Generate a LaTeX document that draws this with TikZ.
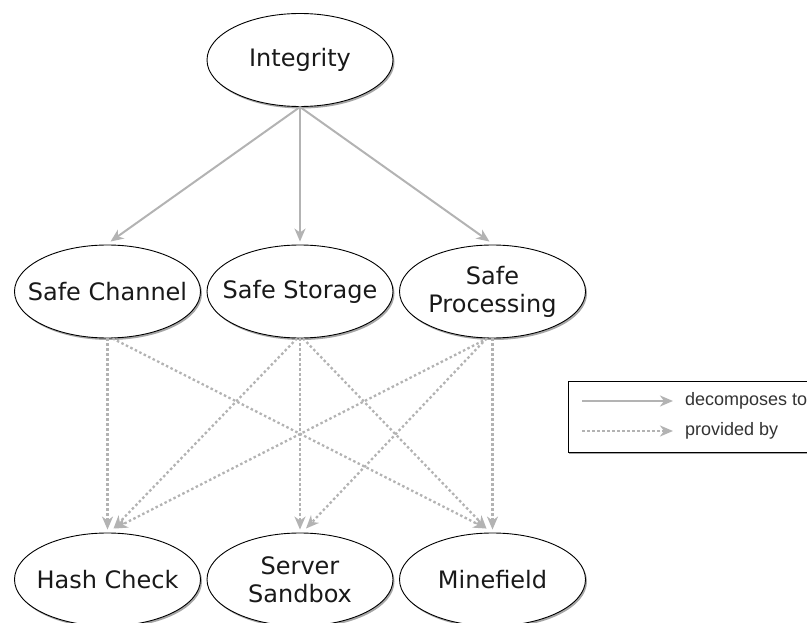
\documentclass[tikz,border=0pt]{standalone}
\usepackage{fontspec}
\setmainfont{DejaVu Sans}
\newfontfamily\legendfont{Liberation Sans}
\usetikzlibrary{shapes.geometric,arrows.meta,shadows}
\definecolor{edgegray}{HTML}{B3B3B3}
\definecolor{legtext}{HTML}{333333}
\begin{document}
\begin{tikzpicture}[x=1pt,y=-1pt,
  ell/.style={ellipse,draw=black,line width=0.9pt,fill=white,
    minimum width=186pt,minimum height=93pt,inner xsep=-20pt,inner ysep=-5pt,align=center,
    text=black!90,font=\fontsize{24}{28}\selectfont,
    drop shadow={shadow xshift=1.5pt,shadow yshift=-2pt,opacity=0.35,fill=black}},
  legbox/.style={draw=black,line width=0.9pt,fill=white,minimum width=250pt,
    minimum height=71pt,inner sep=0pt,anchor=north west,
    drop shadow={shadow xshift=1pt,shadow yshift=-2pt,opacity=0.35,fill=black}},
  legtxt/.style={anchor=west,inner sep=0pt,text=legtext,font=\legendfont\fontsize{18}{20}\selectfont},
  tip/.style={-{Stealth[length=13pt,width=11pt,inset=4pt]}},
  dec/.style={draw=edgegray,line width=2pt,tip},
  prov/.style={draw=edgegray,line width=2.3pt,dash pattern=on 2.5pt off 2.5pt,tip},
]
\useasboundingbox (0,0) rectangle (807,623);
\clip (0,0) rectangle (807,623);

% nodes
\node[ell] (int) at (300,60) {Integrity};
\node[ell] (sc) at (107.5,291.5) {Safe Channel};
\node[ell] (ss) at (300,291.5) {Safe Storage};
\node[ell] (sp) at (492.5,291.5) {Safe\\Processing};
\node[ell] (hc) at (107.5,579.5) {Hash Check};
\node[ell] (sb) at (300,579.5) {Server\\Sandbox};
\node[ell] (mf) at (492.5,579.5) {Minefield};

% decomposes to
\draw[dec] (int.south) -- ([xshift=3pt,yshift=3pt]sc.north);
\draw[dec] (int.south) -- ([yshift=3pt]ss.north);
\draw[dec] (int.south) -- ([xshift=-3pt,yshift=3pt]sp.north);

% provided by
\draw[prov] (sc.south) -- ([yshift=3pt]hc.north);
\draw[prov] ([xshift=5pt]sc.south) -- ([xshift=-6pt,yshift=4pt]mf.north);
\draw[prov] ([xshift=-3pt]ss.south) -- ([xshift=6pt,yshift=4pt]hc.north);
\draw[prov] (ss.south) -- ([yshift=3pt]sb.north);
\draw[prov] ([xshift=3pt]ss.south) -- ([xshift=-6pt,yshift=4pt]mf.north);
\draw[prov] ([xshift=-5pt]sp.south) -- ([xshift=7pt,yshift=4pt]hc.north);
\draw[prov] ([xshift=-6pt]sp.south) -- ([xshift=6pt,yshift=4pt]sb.north);
\draw[prov] (sp.south) -- ([yshift=3pt]mf.north);

% legend
\node[legbox] (leg) at (568,381) {};
\coordinate (la1) at (582,401);
\coordinate (lb1) at (673,401);
\coordinate (la2) at (582,431);
\coordinate (lb2) at (673,431);
\draw[dec] (la1) -- (lb1);
\draw[prov] (la2) -- (lb2);
\node[legtxt] (lt1) at (685,401) {decomposes to};
\node[legtxt] (lt2) at (685,431) {provided by};
\end{tikzpicture}
\end{document}
